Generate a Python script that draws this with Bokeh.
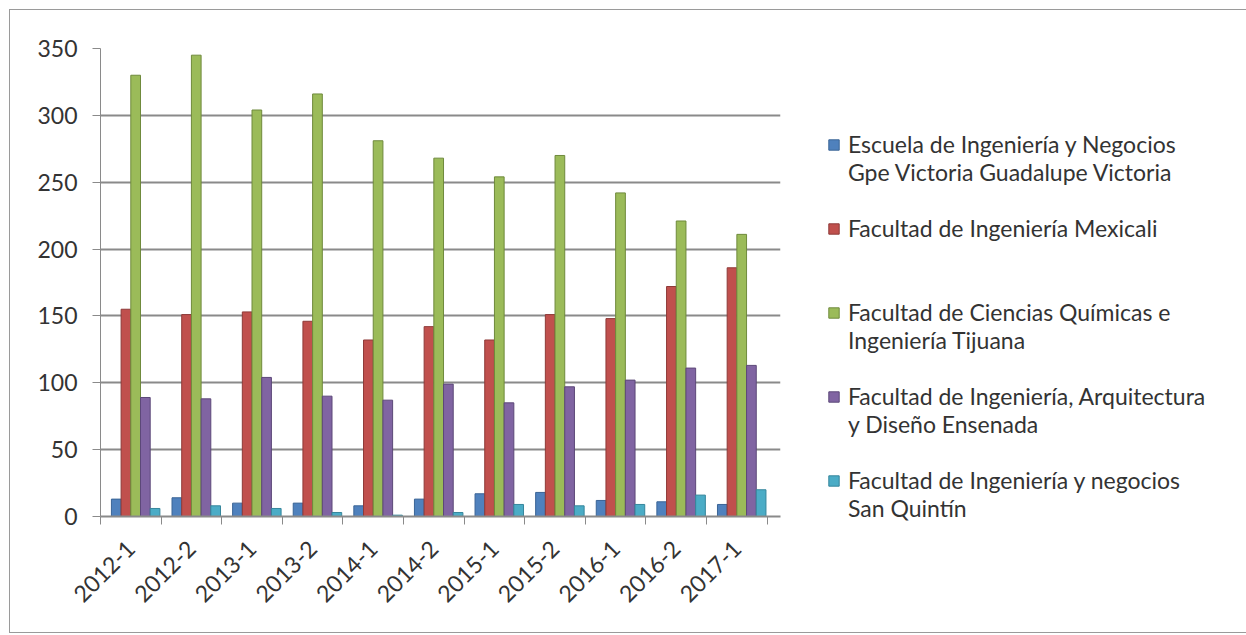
import math
from bokeh.plotting import figure
from bokeh.models import (ColumnDataSource, Range1d, FixedTicker, Legend, LegendItem)
from bokeh.transform import dodge
from bokeh.embed import file_html
from bokeh.resources import INLINE

categories = ["2012-1", "2012-2", "2013-1", "2013-2", "2014-1", "2014-2",
              "2015-1", "2015-2", "2016-1", "2016-2", "2017-1"]
escuela_gpe_victoria = [13, 14, 10, 10, 8, 13, 17, 18, 12, 11, 9]
fi_mexicali = [155, 151, 153, 146, 132, 142, 132, 151, 148, 172, 186]
fcqi_tijuana = [330, 345, 304, 316, 281, 268, 254, 270, 242, 221, 211]
fiad_ensenada = [89, 88, 104, 90, 87, 99, 85, 97, 102, 111, 113]
fin_san_quintin = [6, 8, 6, 3, 1, 3, 9, 8, 9, 16, 20]

series_names = [
    "Escuela de Ingeniería y Negocios\nGpe Victoria Guadalupe Victoria",
    "Facultad de Ingeniería Mexicali",
    "Facultad de Ciencias Químicas e\nIngeniería Tijuana",
    "Facultad de Ingeniería, Arquitectura\ny Diseño Ensenada",
    "Facultad de Ingeniería y negocios\nSan Quintín",
]
series_keys = ["s0", "s1", "s2", "s3", "s4"]
colors = ["#4F81BD", "#C0504D", "#9BBB59", "#8064A2", "#4BACC6"]
edges = ["#3a6496", "#8e3a38", "#6f8a3c", "#5c4878", "#36869c"]
y_ticks = [0, 50, 100, 150, 200, 250, 300, 350]

centers = [i + 0.5 for i in range(len(categories))]
boundaries = [i for i in range(len(categories) + 1)]

source = ColumnDataSource(dict(
    x=centers, s0=escuela_gpe_victoria, s1=fi_mexicali, s2=fcqi_tijuana,
    s3=fiad_ensenada, s4=fin_san_quintin))

FONT = "Lato"
TEXT = "#333333"
GRID = "#8a8a8a"

p = figure(frame_width=680, frame_height=468, output_backend="svg", toolbar_location=None,
           x_range=Range1d(0, 11.22), y_range=Range1d(0, 350),
           min_border_left=90, min_border_right=88, min_border_top=38,
           min_border_bottom=116, outline_line_color=None)
p.styles = {"border": "1px solid #9a9a9a", "margin-left": "9px", "margin-top": "9px"}

offsets = [-0.24, -0.08, 0.08, 0.24, 0.40]
renderers = []
for key, off, c, e in zip(series_keys, offsets, colors, edges):
    r = p.vbar(x=dodge("x", off), top=key, width=0.16, bottom=0, source=source,
               fill_color=c, line_color=e, line_width=1)
    renderers.append(r)

# axes
p.yaxis.ticker = FixedTicker(ticks=y_ticks)
p.yaxis.axis_line_color = GRID
p.yaxis.major_tick_line_color = GRID
p.yaxis.major_tick_out = 8
p.yaxis.major_tick_in = 0
p.yaxis.minor_tick_line_color = None
p.yaxis.major_label_text_font = FONT
p.yaxis.major_label_text_font_size = "23px"
p.yaxis.major_label_text_color = TEXT
p.yaxis.major_label_standoff = 15

p.xaxis.ticker = FixedTicker(ticks=centers, minor_ticks=boundaries)
p.xaxis.major_label_overrides = {c: lab for c, lab in zip(centers, categories)}
p.xaxis.axis_line_color = GRID
p.xaxis.axis_line_width = 2
p.xaxis.major_tick_line_color = None
p.xaxis.minor_tick_line_color = GRID
p.xaxis.minor_tick_out = 8
p.xaxis.minor_tick_in = 0
p.xaxis.major_label_orientation = math.pi / 4
p.xaxis.major_label_text_font = FONT
p.xaxis.major_label_text_font_size = "23px"
p.xaxis.major_label_text_color = TEXT
p.xaxis.major_label_standoff = 20

p.xgrid.grid_line_color = None
p.ygrid.ticker = FixedTicker(ticks=y_ticks)
p.ygrid.grid_line_color = GRID
p.ygrid.grid_line_width = 2

# pad each label to three lines so the swatch sits beside the first text line
legend_labels = []
for n in series_names:
    lines = n.split("\n")
    while len(lines) < 2:
        lines.append("\u00a0")
    legend_labels.append("\n".join(["\u00a0"] + lines))

legend = Legend(items=[LegendItem(label=n, renderers=[r]) for n, r in zip(legend_labels, renderers)],
                location=(47, -6), padding=0, margin=0, spacing=-15,
                glyph_width=13, glyph_height=13, label_standoff=8,
                label_text_font=FONT, label_text_font_size="23px",
                label_text_color=TEXT, label_text_line_height=1.43,
                border_line_color=None, background_fill_alpha=0)
p.add_layout(legend, "right")

open("out.html", "w").write(file_html(p, INLINE))
